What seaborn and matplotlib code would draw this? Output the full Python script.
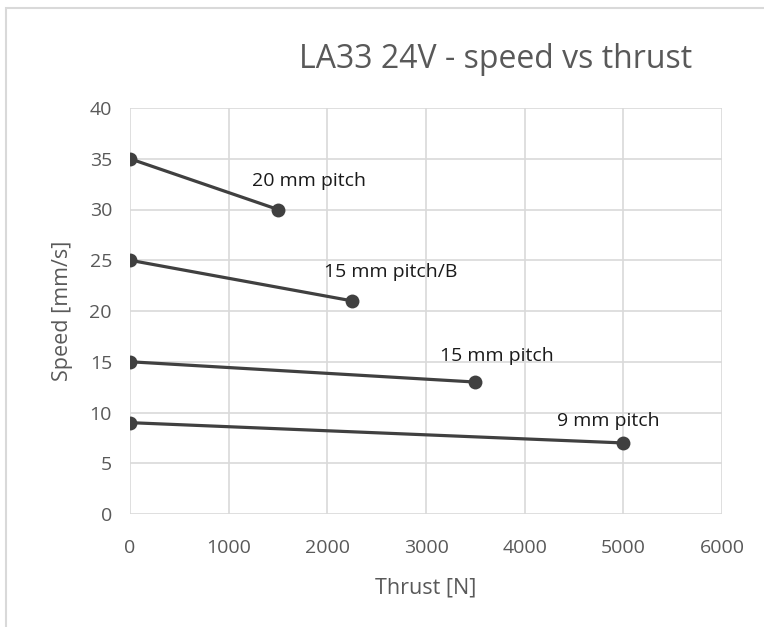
import pandas as pd
import matplotlib.pyplot as plt
import seaborn as sns
from matplotlib.patches import Rectangle

# --- data ---
series = ['20 mm pitch', '15 mm pitch/B', '15 mm pitch', '9 mm pitch']
thrust_start = [0, 0, 0, 0]
thrust_end = [1500, 2250, 3500, 5000]
speed_start = [35, 25, 15, 9]
speed_end = [30, 21, 13, 7]
x_ticks = [0, 1000, 2000, 3000, 4000, 5000, 6000]
y_ticks = [0, 5, 10, 15, 20, 25, 30, 35, 40]

rows = []
for name, x0, x1, y0, y1 in zip(series, thrust_start, thrust_end, speed_start, speed_end):
    rows.append({'Series': name, 'Thrust': x0, 'Speed': y0})
    rows.append({'Series': name, 'Thrust': x1, 'Speed': y1})
df = pd.DataFrame(rows)

sns.set_theme(style='white')
plt.rcParams['font.family'] = ['Open Sans', 'DejaVu Sans']

fig = plt.figure(figsize=(7.64, 6.27), dpi=100)
ax = fig.add_axes([130 / 764, 1 - 514 / 627, 592 / 764, 406 / 627])

line_col = '#404040'
sns.lineplot(data=df, x='Thrust', y='Speed', hue='Series', palette=[line_col] * 4,
             marker='o', markersize=10, markeredgewidth=0, linewidth=2.3,
             legend=False, ax=ax, zorder=3)

# data labels near the end points
offsets = [(31, 28), (39, 29), (22, 26), (-15, 22)]
for name, x1, y1, (dx, dy) in zip(series, thrust_end, speed_end, offsets):
    ax.annotate(name, (x1, y1), xytext=(dx, dy), textcoords='offset pixels',
                ha='center', va='center', fontsize=14, color='#1a1a1a')

ax.set_xlim(0, 6000)
ax.set_ylim(0, 40)
ax.set_xticks(x_ticks)
ax.set_yticks(y_ticks)
ax.grid(True, color='#d9d9d9', linewidth=1.2)
ax.set_axisbelow(True)
for s in ax.spines.values():
    s.set_visible(False)
ax.tick_params(axis='both', length=0, labelsize=14, labelcolor='#595959')
ax.tick_params(axis='x', pad=18)
ax.tick_params(axis='y', pad=13)

ax.set_xlabel('Thrust [N]', fontsize=15.5, color='#595959', labelpad=15)
ax.set_ylabel('Speed [mm/s]', fontsize=15.5, color='#595959', labelpad=12)

fig.text(496 / 764, 1 - 59 / 627, 'LA33 24V - speed vs thrust', ha='center', va='center',
         fontsize=23, color='#595959')

# outer chart-area border (cropped on the right and bottom)
fig.patches.append(Rectangle((6 / 764, -0.1), 1.2, 1.1 - 8 / 627,
                             transform=fig.transFigure, fill=False,
                             edgecolor='#d9d9d9', linewidth=1.5))

fig.savefig('out.png', dpi=100, facecolor='white')
